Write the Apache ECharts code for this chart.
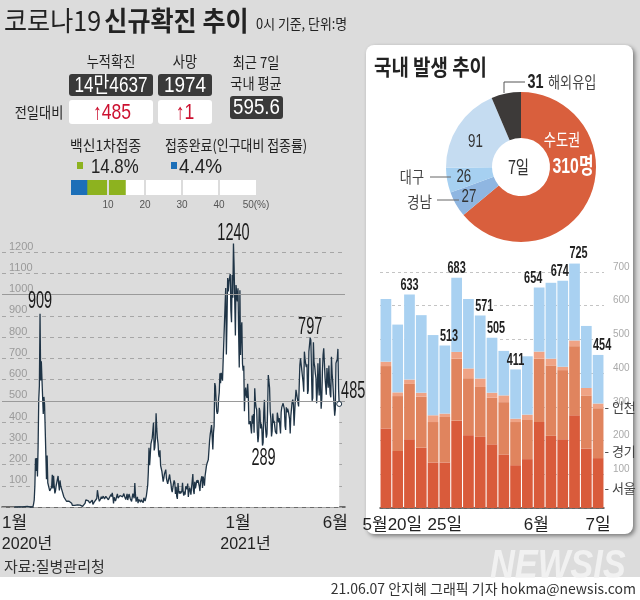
<!DOCTYPE html>
<html><head><meta charset="utf-8">
<script src="https://cdn.jsdelivr.net/npm/echarts@6/dist/echarts.min.js"></script>
<style>html,body{margin:0;padding:0;background:#dcdcdc}#c{width:640px;height:600px}</style>
</head><body><div id="c"></div>
<script>
// ---------- data: daily confirmed cases (0시 기준), from 2020-01-20 ----------
const cases2020Jan = [1,0,0,0,1,0,1,1,0,0,3,4];
const cases2020Feb = [1,3,0,1,2,5,1,0,3,0,1,0,0,0,0,1,1,1,15,34,100,229,169,231,144,284,505,571,909];
const cases2020Mar = [595,686,600,516,438,518,483,367,248,131,242,114,110,107,76,74,84,93,152,87,147,98,64,76,100,104,91,146,105,78,125];
const cases2020Apr = [101,89,86,94,81,47,47,53,39,27,30,32,25,27,27,22,22,18,8,13,9,11,8,6,10,10,10,14,9,4];
const cases2020May = [9,6,13,8,3,2,4,12,18,34,35,27,26,29,27,19,13,15,13,32,12,20,23,25,16,19,40,79,58,39,27];
const cases2020Jun = [35,38,49,39,39,51,57,38,38,50,45,56,49,34,37,34,43,59,49,67,48,17,46,51,28,39,51,62,42,43];
const cases2020Jul = [51,54,63,63,61,48,44,63,50,45,35,44,62,33,39,61,60,39,34,26,45,63,59,41,113,58,25,28,48,18,36];
const cases2020Aug = [31,30,23,34,33,43,20,43,36,28,34,54,56,103,166,279,197,246,297,288,324,332,397,266,280,320,441,371,323,299,248];
const cases2020Sep = [235,267,195,198,168,167,119,136,156,155,176,136,121,109,106,113,153,126,110,82,70,61,110,125,114,61,95,50,38,113];
const cases2020Oct = [77,63,75,64,73,75,114,69,54,72,58,98,102,84,110,47,73,91,76,58,91,121,155,77,61,119,88,103,125,114,127];
const cases2020Nov = [124,97,75,118,125,145,89,143,126,100,146,143,191,205,208,223,230,313,343,363,386,330,271,349,382,583,569,504,450,438];
const cases2020Dec = [451,511,540,629,583,631,615,594,686,682,689,950,1030,718,880,1078,1014,1062,1053,1097,926,869,1092,985,1240,1132,970,807,1045,1050,967];
const cases2021Jan = [1029,824,657,1020,715,840,869,674,641,665,451,537,562,524,513,580,520,389,386,404,401,346,431,392,437,349,559,497,469,458,355];
const cases2021Feb = [305,336,467,451,370,393,372,289,303,444,504,403,362,326,344,457,621,621,561,448,416,332,357,440,396,406,415,355];
const cases2021Mar = [355,344,444,424,398,418,416,346,446,470,465,488,490,459,382,363,469,445,463,452,456,415,346,428,430,494,505,482,382,447,506];
const cases2021Apr = [551,557,543,543,473,478,668,700,671,677,614,587,542,731,698,673,658,672,532,549,731,735,797,785,644,500,512,775,679,661];
const cases2021May = [627,606,488,541,676,574,525,701,564,463,511,635,715,747,681,610,619,528,654,646,561,666,585,530,516,707,629,587,533,480,430];
const cases2021Jun = [459,677,681,695,744,556,485];
const caseStartDate = [2020, 0, 20];
const lineAnnotations = [[2020,1,29],[2020,11,25],[2021,1,8],[2021,3,23],[2021,5,7]];
const lineMonthTicks = [[2020,0,1],[2021,0,1],[2021,5,1]];

// ---------- bar chart: 국내 발생 (5/20 ~ 6/7) ----------
const barDays = ['5/20','5/21','5/22','5/23','5/24','5/25','5/26','5/27','5/28','5/29','5/30','5/31','6/1','6/2','6/3','6/4','6/5','6/6','6/7'];
const barTickLabels = ['5월20일','','','','','25일','','','','','','','6월','','','','','','7일'];
const seoul    = [236,169,204,179,135,135,259,216,211,189,159,127,145,255,214,204,275,176,148];
const gyeonggi = [185,163,164,151,120,135,184,169,148,138,155,128,116,188,209,205,205,158,148];
const incheon  = [13,11,13,12,20,10,20,29,25,15,20,10,16,21,20,10,17,22,14];
const others   = [186,201,252,230,238,202,220,206,187,163,132,146,173,190,225,255,228,184,144];
const labeledBars = [2,4,6,8,9,11,13,15,16,18];

// ---------- donut: 7일 ----------
const regionNames  = ['수도권','경남','대구','기타','해외유입'];
const regionValues = [310,27,26,91,31];

// ---------- vaccine ----------
const vaccineFirst = 14.8;
const vaccineFull = 4.4;
const vaccineTicks = [10,20,30,40,50];

// ---------- header stats ----------
const statCumulative = '14만4637', statDeaths = '1974', statAvg7 = '595.6';
const statCumDiff = '485', statDeathDiff = '1';

// ======================================================================
const KR = '"Noto Sans CJK KR", sans-serif';
const NUM = '"Liberation Sans", "Noto Sans CJK KR", sans-serif';
const BG = '#dcdcdc';
const PIE_C = [521, 167], PIE_R = [29, 75];

const allCases = [].concat(cases2020Jan, cases2020Feb, cases2020Mar, cases2020Apr, cases2020May, cases2020Jun,
  cases2020Jul, cases2020Aug, cases2020Sep, cases2020Oct, cases2020Nov, cases2020Dec,
  cases2021Jan, cases2021Feb, cases2021Mar, cases2021Apr, cases2021May, cases2021Jun);
const t0 = Date.UTC(caseStartDate[0], caseStartDate[1], caseStartDate[2]);
const lineData = allCases.map((v, i) => [t0 + i * 864e5, v]);
const lastT = lineData[lineData.length - 1][0], lastV = allCases[allCases.length - 1];

function txt(x, y, text, size, o) {
  o = o || {};
  return {type: 'text', x: x, y: y, z: 100, silent: true, scaleX: o.sx || 1,
    style: {text: text, fontSize: size, fontFamily: o.ff || KR, fontWeight: o.fw || 'normal',
      fontStyle: o.fs || 'normal',
      fill: o.fill || '#222', align: o.align || 'left', verticalAlign: o.va || 'middle'}};
}
function box(x, y, w, h, fill) {
  return {type: 'rect', z: 90, silent: true, shape: {x: x, y: y, width: w, height: h, r: 3}, style: {fill: fill}};
}

const graphics = [
  {type: 'rect', z: -10, silent: true, shape: {x: 0, y: 577, width: 640, height: 23}, style: {fill: '#ffffff'}},
  {type: 'rect', z: -5, silent: true, shape: {x: 366, y: 45, width: 267, height: 489, r: 8},
    style: {fill: '#fff', shadowBlur: 4, shadowOffsetX: 2, shadowOffsetY: 2, shadowColor: 'rgba(0,0,0,0.45)'}},
  {type: 'text', x: 4, y: 21, z: 100, silent: true, scaleX: 0.93,
    style: {text: '{a|코로나19} {b|신규확진 추이}', align: 'left', verticalAlign: 'middle',
      rich: {a: {fontSize: 27, fontFamily: KR, fill: '#222'},
             b: {fontSize: 27, fontFamily: KR, fontWeight: 'bold', fill: '#222'}}}},
  txt(256, 24, '0시 기준, 단위:명', 14, {sx: 0.92}),
  txt(111, 61, '누적확진', 15, {align: 'center', sx: 0.88}),
  txt(185, 61, '사망', 15, {align: 'center', sx: 0.88}),
  txt(256, 62, '최근 7일', 15, {align: 'center', sx: 0.88}),
  txt(256, 83, '국내 평균', 15, {align: 'center', sx: 0.88}),
  box(69, 74, 84, 22, '#3a3a3a'), box(158, 74, 54, 22, '#3a3a3a'), box(230, 96, 53, 23, '#3a3a3a'),
  box(69, 100, 84, 24, '#ffffff'), box(158, 100, 54, 24, '#ffffff'),
  txt(111, 86, statCumulative, 22, {align: 'center', ff: NUM, fill: '#fff', sx: 0.78}),
  txt(185, 86, statDeaths, 22, {align: 'center', ff: NUM, fill: '#fff', sx: 0.86}),
  txt(256.5, 108, statAvg7, 22, {align: 'center', ff: NUM, fill: '#fff', sx: 0.85}),
  txt(112, 113, '↑' + statCumDiff, 22, {align: 'center', ff: NUM, fill: '#cc1130', sx: 0.8}),
  txt(185, 113, '↑' + statDeathDiff, 22, {align: 'center', ff: NUM, fill: '#cc1130', sx: 0.8}),
  txt(39, 112, '전일대비', 15, {align: 'center', sx: 0.88}),
  txt(70, 145, '백신1차접종', 15, {sx: 0.92}),
  txt(165, 145, '접종완료(인구대비 접종률)', 15, {sx: 0.86}),
  {type: 'rect', z: 90, silent: true, shape: {x: 77, y: 162, width: 6, height: 7}, style: {fill: '#8db21f'}},
  {type: 'rect', z: 90, silent: true, shape: {x: 171, y: 162, width: 6, height: 7}, style: {fill: '#1c6fb8'}},
  txt(91, 167, vaccineFirst + '%', 21, {ff: NUM, sx: 0.8}),
  txt(179, 167, vaccineFull + '%', 21, {ff: NUM, sx: 0.9}),
  txt(4, 566, '자료:질병관리청', 15, {fill: '#333'}),
  txt(490, 567, 'NEWSIS', 40, {ff: NUM, fw: 'bold', fs: 'italic', fill: 'rgba(245,245,245,0.85)', sx: 0.86}),
  txt(636, 589, '21.06.07 안지혜 그래픽 기자 hokma@newsis.com', 14, {align: 'right', fill: '#333'}),
  txt(374, 67, '국내 발생 추이', 22, {fw: 'bold', sx: 0.86}),
  txt(518.5, 167, '7일', 18, {align: 'center', fill: '#333', sx: 0.8}),
  txt(562, 140, regionNames[0], 17, {align: 'center', fill: '#fff', sx: 0.78}),
  txt(573, 167, regionValues[0] + '명', 22, {align: 'center', ff: NUM, fw: 'bold', fill: '#fff', sx: 0.72}),
  txt(424, 177, '대구', 16, {align: 'right', fill: '#444', sx: 0.82}),
  {type: 'line', z: 100, silent: true, shape: {x1: 430, y1: 177, x2: 451, y2: 177}, style: {stroke: '#666', lineWidth: 1}},
  txt(432, 202, '경남', 16, {align: 'right', fill: '#444', sx: 0.85}),
  {type: 'line', z: 100, silent: true, shape: {x1: 437, y1: 200, x2: 459, y2: 200}, style: {stroke: '#666', lineWidth: 1}},
  {type: 'polyline', z: 100, silent: true, shape: {points: [[504, 93], [504, 82], [525, 82]]}, style: {stroke: '#555', lineWidth: 1, fill: null}},
  txt(535.5, 82, String(regionValues[4]), 20, {ff: NUM, fw: 'bold', align: 'center', sx: 0.72}),
  txt(548, 82, regionNames[4], 16, {fill: '#444', sx: 0.82})
];

// donut value labels at the slice mid-angle (mid radius), from the data
const regionLabelShift = [null, [-7, 4], [-6, 1], [-2, 3], null];
(function () {
  const sum = regionValues.reduce((a, b) => a + b, 0);
  let acc = 0;
  const rMid = (PIE_R[0] + PIE_R[1]) / 2;
  regionValues.forEach((v, i) => {
    const mid = (acc + v / 2) / sum * 2 * Math.PI;
    acc += v;
    const s = regionLabelShift[i];
    if (!s) return;
    graphics.push(txt(PIE_C[0] + rMid * Math.sin(mid) + s[0], PIE_C[1] - rMid * Math.cos(mid) + s[1], String(v), 19,
      {ff: NUM, align: 'center', fill: '#333', sx: 0.7}));
  });
})();

const barTotal = i => seoul[i] + gyeonggi[i] + incheon[i] + others[i];
const lastIdx = barDays.length - 1;
function regionSeries(name, arr, color, off) {
  return {
    name: name, type: 'bar', stack: 'r', xAxisIndex: 1, yAxisIndex: 1, barCategoryGap: '9%', clip: false,
    itemStyle: {color: color}, emphasis: {disabled: true}, silent: true,
    data: arr.map((v, i) => i === lastIdx && off ? {value: v, label: {show: true, position: 'right', distance: 1,
      offset: off, formatter: '- ' + name, fontSize: 13, fontFamily: KR, color: '#444'}} : v)
  };
}
const richAx = (pad, size) => ({fontSize: size || 17, fontFamily: NUM, color: '#222', lineHeight: 22, padding: [0, 0, 0, pad || 0]});

const option = {
  backgroundColor: BG,
  animation: false,
  graphic: {elements: graphics},
  grid: [
    {left: 2, right: 295, top: 252, bottom: 93, outerBoundsMode: 'none', containLabel: false},
    {left: 380, right: 36, top: 272, bottom: 92, outerBoundsMode: 'none', containLabel: false},
    {left: 71, width: 185, top: 180, height: 15, outerBoundsMode: 'none', containLabel: false}
  ],
  xAxis: [
    {type: 'value', gridIndex: 0, min: Date.UTC(2020, 0, 1), max: Date.UTC(2021, 5, 16),
      axisLine: {lineStyle: {color: '#444', width: 1.5}}, axisTick: {show: false}, splitLine: {show: false},
      axisLabel: {customValues: lineMonthTicks.map(d => Date.UTC(d[0], d[1], d[2])), margin: 5,
        showMinLabel: true, showMaxLabel: true, hideOverlap: false,
        formatter: function (v) {
          const d = new Date(v), m = d.getUTCMonth() + 1, y = d.getUTCFullYear();
          if (m === 1 && y === 2020) return '{f|1월}\n{fy|' + y + '년}';
          if (m === 1) return '{m|1월}\n{my|' + y + '년}';
          return '{m|' + m + '월}';
        },
        rich: {m: richAx(0), f: richAx(25), fy: richAx(50, 16), my: richAx(15, 16)}}},
    {type: 'category', gridIndex: 1, data: barDays,
      axisLine: {lineStyle: {color: '#444', width: 1.5}}, axisTick: {show: false},
      axisLabel: {interval: 0, margin: 6, hideOverlap: false,
        formatter: (v, i) => {
          const s = barTickLabels[i];
          if (!s) return '';
          return i === 0 ? '{a|' + s + '}' : (s === '6월' ? '{b|' + s + '}' : '{c|' + s + '}');
        },
        rich: {a: richAx(13), b: richAx(18), c: richAx(0)}}},
    {type: 'value', gridIndex: 2, min: 0, max: 50, axisLine: {show: false}, axisTick: {show: false},
      splitLine: {show: false},
      axisLabel: {customValues: vaccineTicks, margin: 5, fontSize: 10, fontFamily: NUM, color: '#555',
        formatter: v => v === 50 ? '50(%)' : String(v)}}
  ],
  yAxis: [
    {type: 'value', gridIndex: 0, min: 0, max: 1200, interval: 100, z: 3,
      axisLine: {show: false}, axisTick: {show: false},
      axisLabel: {inside: true, margin: 7, verticalAlign: 'bottom', fontSize: 11, fontFamily: NUM, color: '#9a9a9a',
        showMinLabel: false, formatter: v => String(v)},
      splitLine: {lineStyle: {color: '#a6a6a6', type: [4, 4], width: 1}}},
    {type: 'value', gridIndex: 1, position: 'right', min: 0, max: 700, interval: 100,
      axisLine: {show: false}, axisTick: {show: false},
      axisLabel: {margin: 9, verticalAlign: 'bottom', fontSize: 10, fontFamily: NUM, color: '#aaaaaa',
        showMinLabel: false, formatter: v => String(v)},
      splitLine: {lineStyle: {color: '#c4c4c4', type: [3, 3], width: 1}}},
    {type: 'category', gridIndex: 2, data: ['v'], show: false}
  ],
  series: [
    {type: 'line', xAxisIndex: 0, yAxisIndex: 0, data: lineData, showSymbol: false, clip: false, silent: true,
      lineStyle: {color: '#1f3446', width: 1.3}, areaStyle: {color: '#ffffff', opacity: 1},
      emphasis: {disabled: true},
      markLine: {silent: true, symbol: 'none', label: {show: false},
        lineStyle: {color: '#9a9a9a', type: 'solid', width: 1}, data: [{yAxis: 500}, {yAxis: 1000}]},
      markPoint: {silent: true, label: {show: false},
        data: [{coord: [lastT, lastV], value: lastV, symbol: 'circle', symbolSize: 5,
          itemStyle: {color: '#fff', borderColor: '#1f3446', borderWidth: 1}}]}},
    regionSeries('서울', seoul, '#d95b3b', [0, 5]),
    regionSeries('경기', gyeonggi, '#e0845e', [0, 18]),
    regionSeries('인천', incheon, '#efa385', [0, 1]),
    regionSeries('기타', others, '#a9d1f1', null),
    {type: 'bar', xAxisIndex: 2, yAxisIndex: 2, data: [50], barWidth: 15, itemStyle: {color: '#ffffff'}, silent: true},
    {type: 'bar', xAxisIndex: 2, yAxisIndex: 2, data: [vaccineFirst], barWidth: 15, barGap: '-100%', itemStyle: {color: '#8db21f'}, silent: true},
    {type: 'bar', xAxisIndex: 2, yAxisIndex: 2, data: [vaccineFull], barWidth: 15, barGap: '-100%', itemStyle: {color: '#1c6fb8'}, silent: true,
      markLine: {silent: true, symbol: 'none', label: {show: false}, lineStyle: {color: BG, type: 'solid', width: 2},
        data: [{xAxis: 10}, {xAxis: 20}, {xAxis: 30}, {xAxis: 40}]}},
    {type: 'pie', center: PIE_C, radius: PIE_R, startAngle: 90, clockwise: true, silent: true, z: 3,
      emphasis: {disabled: true}, labelLine: {show: false}, label: {show: false},
      data: regionNames.map((n, i) => {
        const colors = ['#d95f3d', '#8fb6e1', '#a6d0f1', '#c5dcf1', '#3d3a39'];
        return {name: n, value: regionValues[i], itemStyle: {color: colors[i]}};
      })}
  ]
};

const chart = echarts.init(document.getElementById('c'), null, {renderer: 'canvas'});
chart.setOption(option);

// value annotations placed through the chart's own coordinate conversion
const extra = [];
const lineLabelShift = [[0, -12], [0, -10], [1, 13], [0, -10], [14, -12]];
lineAnnotations.forEach((a, k) => {
  const t = Date.UTC(a[0], a[1], a[2]);
  const v = allCases[Math.round((t - t0) / 864e5)];
  const p = chart.convertToPixel({gridIndex: 0}, [t, v]);
  const s = lineLabelShift[k];
  extra.push(txt(p[0] + s[0], p[1] + s[1], String(v), 23, {ff: NUM, align: 'center', fill: '#1a1a1a', sx: 0.63}));
});
const barLabelShift = {4: [16, 11], 8: [4, 0], 9: [4, 0], 13: [-6, 0], 15: [-3, 0], 16: [4, -1], 18: [4, 0]};
labeledBars.forEach(i => {
  const tot = barTotal(i);
  const p = chart.convertToPixel({gridIndex: 1}, [barDays[i], tot]);
  const s = barLabelShift[i] || [0, 0];
  extra.push(txt(p[0] + s[0], p[1] - 9 + s[1], String(tot), 16, {ff: NUM, fw: 'bold', align: 'center', fill: '#222', sx: 0.68}));
});
chart.setOption({graphic: {elements: graphics.concat(extra)}});
</script></body></html>
